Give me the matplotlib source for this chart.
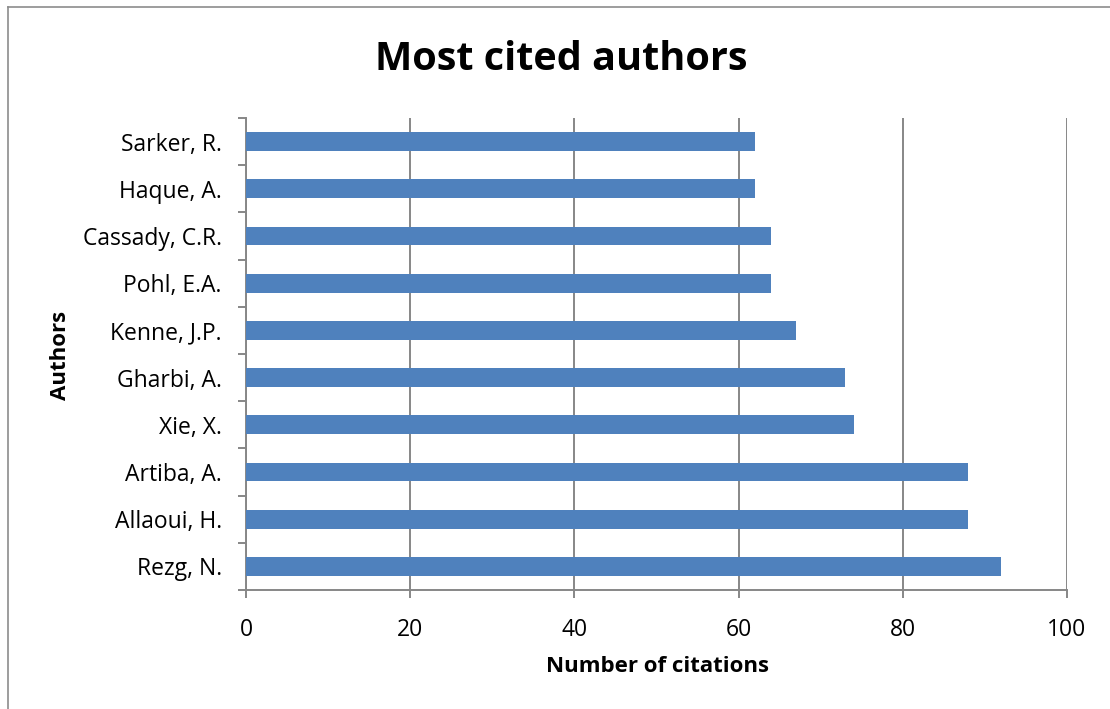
import matplotlib
matplotlib.use("Agg")
import matplotlib.pyplot as plt
from matplotlib.lines import Line2D
import numpy as np

authors = ["Rezg, N.", "Allaoui, H.", "Artiba, A.", "Xie, X.", "Gharbi, A.",
           "Kenne, J.P.", "Pohl, E.A.", "Cassady, C.R.", "Haque, A.", "Sarker, R."]
citations = [92, 88, 88, 74, 73, 67, 64, 64, 62, 62]
xticks = [0, 20, 40, 60, 80, 100]

plt.rcParams['font.family'] = ['Open Sans', 'DejaVu Sans']

W, H = 1110, 709
fig = plt.figure(figsize=(W/100, H/100), dpi=100)
ax = fig.add_axes([246/W, 1-590/H, (1067-246)/W, (590-118)/H])

y = np.arange(len(authors))
ax.barh(y, citations, height=0.4, color='#4F81BD', zorder=3)

ax.set_xlim(0, 100)
ax.set_ylim(-0.5, len(authors)-0.5)
ax.set_xticks(xticks)
ax.set_xticklabels([str(v) for v in xticks])
ax.set_yticks(y)
ax.set_yticklabels(authors)
ax.set_yticks(np.arange(-0.5, len(authors)), minor=True)

grid_c = '#878787'
ax.grid(axis='x', color=grid_c, linewidth=1.4, zorder=0)
for s in ['top', 'right']:
    ax.spines[s].set_visible(False)
for s in ['left', 'bottom']:
    ax.spines[s].set_color(grid_c)
    ax.spines[s].set_linewidth(1.4)

ax.tick_params(axis='y', which='major', length=0, pad=17.5, labelsize=16.5, labelcolor='black')
ax.tick_params(axis='y', which='minor', length=6, width=1.4, color=grid_c, direction='out')
ax.tick_params(axis='x', which='major', length=6, width=1.4, color=grid_c, pad=14, labelsize=16.5, labelcolor='black')

fig.text(561/W, 1-60/H, "Most cited authors", ha='center', va='center', fontsize=28.5, fontweight='bold')
fig.text(60/W, 1-355/H, "Authors", ha='center', va='center', rotation=90, fontsize=16, fontweight='bold')
fig.text(657/W, 1-666/H, "Number of citations", ha='center', va='center', fontsize=16, fontweight='bold')

# outer chart border (left and top visible)
fig.add_artist(Line2D([8/W, 8/W], [0, 1-7/H], transform=fig.transFigure, color='#8c8c8c', linewidth=1.2))
fig.add_artist(Line2D([8/W, 1], [1-7/H, 1-7/H], transform=fig.transFigure, color='#8c8c8c', linewidth=1.2))

fig.savefig("out.png", dpi=100)
